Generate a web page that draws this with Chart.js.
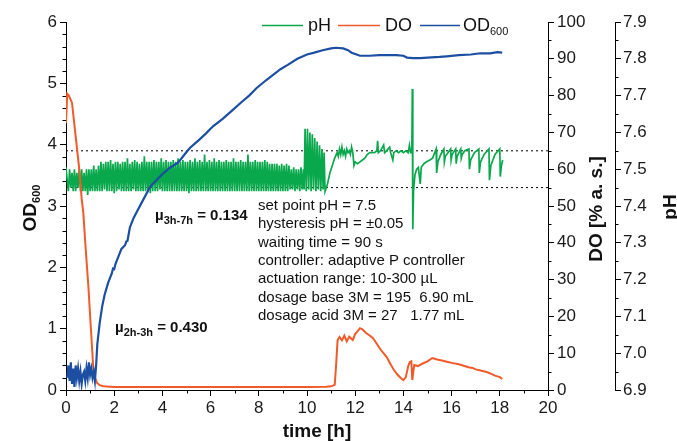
<!DOCTYPE html>
<html>
<head>
<meta charset="utf-8">
<script src="https://cdn.jsdelivr.net/npm/chart.js@4/dist/chart.umd.min.js"></script>
<style>
  html, body { margin: 0; padding: 0; background: #fff; }
  #wrap { width: 677px; height: 441px; position: relative; }
</style>
</head>
<body>
<div id="wrap"><canvas id="chart"></canvas></div>
<script>
// OD600, left axis
var odTime = [0.05,0.1,0.15,0.2,0.25,0.3,0.35,0.4,0.45,0.5,0.55,0.6,0.65,0.7,0.75,0.8,0.85,0.9,0.95,1.0,1.05,1.1,1.15,1.2,
  1.25,1.3,1.4,1.5,1.6,1.75,1.9,1.95,2.0,2.05,2.1,2.3,2.45,2.5,2.55,2.65,2.8,3.0,3.2,3.5,4.0,4.3,4.66,5.0,5.15,5.5,5.8,6.1,6.5,6.9,7.3,7.6,7.9,
  8.3,8.9,9.2,9.6,10.0,10.3,10.65,11.0,11.2,11.5,11.7,11.85,12.2,12.6,13.0,13.3,13.7,14.0,14.15,14.4,14.7,15.0,15.5,15.8,
  16.3,16.8,17.2,17.6,17.9,18.1];
var odValue = [0.2,0.4,0.15,0.45,0.1,0.35,0.05,0.4,0.2,0.35,0.15,0.3,0.1,0.25,0.3,0.15,0.35,0.2,0.45,0.25,0.35,0.2,0.3,0.15,
  0.4,0.75,1.1,1.36,1.55,1.75,1.9,1.98,1.97,2.05,2.1,2.3,2.36,2.42,2.43,2.65,2.8,2.95,3.1,3.32,3.52,3.62,3.71,3.88,3.95,4.07,4.18,4.3,4.42,4.56,4.7,4.8,4.92,
  5.05,5.23,5.3,5.4,5.47,5.5,5.54,5.57,5.58,5.57,5.54,5.5,5.45,5.45,5.46,5.46,5.46,5.45,5.42,5.41,5.41,5.42,5.43,5.44,
  5.46,5.47,5.49,5.49,5.51,5.5];

// DO [% a. s.], first right axis
var doTime = [0,0.05,0.12,0.25,0.35,0.45,0.55,0.65,0.72,0.8,0.93,1.03,1.13,1.2,1.28,1.4,1.55,2,3,4,5,6,7,8,9,10,10.8,11.0,11.15,
  11.2,11.27,11.35,11.45,11.55,11.65,11.75,11.9,12.0,12.1,12.2,12.3,12.45,12.6,12.75,12.9,13.05,13.2,13.3,13.45,13.6,13.75,13.9,
  14.0,14.1,14.2,14.27,14.33,14.37,14.42,14.45,14.6,14.8,15.0,15.2,15.4,15.6,15.8,16.05,16.3,16.5,16.7,16.87,17.0,17.2,17.45,
  17.6,17.8,18.0,18.1];
var doValue = [72.5,80.5,80,78,72,66,60,52,48,40,28,17,6.2,3.5,2,1.3,1,0.8,0.8,0.8,0.8,0.8,0.8,0.8,0.8,0.8,0.9,1.0,1.4,
  6,13.6,14.4,13.5,14.8,13.2,14.5,13.6,15.2,16,16.8,16.5,15.5,14.8,14,12.5,11,9.8,9,7.2,5.5,4.2,3.2,
  2.7,3.5,6.5,7.6,7.8,2.7,5.5,6.8,6.5,7.2,7.8,8.7,8.3,8.0,7.7,7.3,7.0,6.6,6.2,6.0,5.6,5.3,4.9,
  4.5,3.9,3.5,3.0];

// pH, second right axis: dense controller part, one reading every 0.05 h from 0 h to 9.85 h
var phBandStart = 0;
var phBandStep = 0.05;
var phBandValue = [
  7.505,7.47,7.44,7.50,7.45,7.49,7.44,7.50,7.44,7.49,7.45,7.50,7.44,7.50,7.44,7.49,7.44,7.50,7.43,7.50,
  7.44,7.50,7.44,7.51,7.44,7.50,7.44,7.51,7.44,7.52,7.44,7.515,7.445,7.52,7.44,7.52,7.44,7.525,7.44,7.515,
  7.435,7.52,7.44,7.52,7.445,7.515,7.44,7.52,7.44,7.52,7.44,7.53,7.44,7.515,7.44,7.52,7.445,7.525,7.44,7.52,
  7.44,7.515,7.44,7.52,7.44,7.535,7.44,7.52,7.44,7.52,7.435,7.52,7.44,7.525,7.44,7.52,7.44,7.52,7.445,7.53,
  7.44,7.52,7.44,7.525,7.44,7.52,7.44,7.52,7.44,7.525,7.44,7.52,7.44,7.53,7.44,7.52,7.44,7.525,7.44,7.52,
  7.44,7.52,7.435,7.525,7.44,7.52,7.44,7.53,7.44,7.52,7.44,7.525,7.44,7.52,7.44,7.54,7.44,7.52,7.44,7.525,
  7.44,7.52,7.44,7.53,7.44,7.52,7.44,7.525,7.44,7.52,7.44,7.52,7.44,7.525,7.44,7.52,7.44,7.52,7.44,7.53,
  7.44,7.52,7.44,7.52,7.44,7.525,7.44,7.52,7.44,7.52,7.44,7.54,7.44,7.52,7.44,7.52,7.44,7.525,7.44,7.52,
  7.44,7.52,7.44,7.52,7.44,7.525,7.44,7.52,7.44,7.515,7.44,7.515,7.44,7.515,7.44,7.515,7.44,7.51,7.44,7.515,
  7.44,7.51,7.44,7.515,7.44,7.51,7.445,7.50,7.445,7.505,7.44,7.50,7.445,7.50,7.44,7.505,7.445,7.50];
// pH after 9.85 h
var phTime = [9.88,9.92,9.97,10.02,10.07,10.12,10.17,10.22,10.27,10.32,10.37,10.42,10.47,10.52,10.57,10.62,10.67,10.71,10.75,
  10.85,10.95,11.05,11.15,11.25,
  11.30,11.35,11.40,11.45,11.50,11.55,11.60,11.65,11.70,11.75,11.80,11.85,11.90,
  11.95,12.00,12.10,12.20,12.30,12.40,12.50,12.60,12.70,
  12.80,12.90,12.93,12.96,13.05,13.18,13.22,13.30,13.43,13.47,13.56,13.60,13.70,13.80,13.90,14.00,14.10,14.20,14.25,14.30,14.35,
  14.37,14.39,14.42,14.48,14.55,14.62,14.70,14.74,14.85,14.96,15.10,15.21,15.30,
  15.36,15.38,15.43,15.55,15.68,15.70,15.74,15.85,15.96,15.98,16.02,16.17,16.19,16.23,16.38,16.40,16.44,16.55,16.72,16.74,
  16.79,16.95,17.13,17.15,17.20,17.35,17.55,17.57,17.63,17.80,18.00,18.02,18.07,18.12];
var phValue = [7.445,7.61,7.44,7.61,7.445,7.60,7.44,7.595,7.445,7.585,7.44,7.575,7.445,7.565,7.44,7.555,7.445,7.545,7.44,
  7.46,7.49,7.51,7.53,7.545,
  7.535,7.555,7.54,7.56,7.54,7.55,7.535,7.555,7.545,7.55,7.54,7.56,7.545,
  7.51,7.52,7.515,7.52,7.525,7.53,7.54,7.545,7.545,
  7.545,7.55,7.577,7.545,7.55,7.566,7.545,7.55,7.56,7.545,7.525,7.545,7.55,7.545,7.55,7.545,7.55,7.545,7.565,7.545,7.545,
  7.718,7.337,7.44,7.485,7.50,7.505,7.46,7.505,7.515,7.52,7.525,7.53,7.545,
  7.555,7.49,7.52,7.54,7.555,7.52,7.535,7.545,7.555,7.525,7.54,7.555,7.515,7.535,7.555,7.53,7.54,7.55,7.555,7.50,
  7.525,7.545,7.555,7.49,7.52,7.54,7.555,7.47,7.51,7.54,7.555,7.48,7.51,7.525];

// hysteresis limits (set point 7.5 +/- 0.05)
var phLimits = [7.45, 7.55];

var infoLines = [
  'set point pH = 7.5',
  'hysteresis pH = \u00b10.05',
  'waiting time = 90 s',
  'controller: adaptive P controller',
  'actuation range: 10-300 \u00b5L',
  'dosage base 3M = 195  6.90 mL',
  'dosage acid 3M = 27   1.77 mL'
];

var GREEN = '#0aa84c', RED = '#f15a29', BLUE = '#1c4fa1';

function toPoints(t, v) {
  return t.map(function(x, i) { return {x: x, y: v[i]}; });
}

var phPoints = phBandValue.map(function(v, i) {
  return {x: phBandStart + i * phBandStep, y: v};
}).concat(toPoints(phTime, phValue));

var datasets = [
  { label: 'OD600', data: toPoints(odTime, odValue), yAxisID: 'y', borderColor: BLUE, borderWidth: 2.2, order: 1 },
  { label: 'DO', data: toPoints(doTime, doValue), yAxisID: 'yDO', borderColor: RED, borderWidth: 2, order: 2 },
  { label: 'pH', data: phPoints, yAxisID: 'yPH', borderColor: GREEN, borderWidth: 1.7, order: 3 }
];
phLimits.forEach(function(lim) {
  datasets.push({ label: 'limit', data: [{x: 0, y: lim}, {x: 20, y: lim}], yAxisID: 'yPH',
    borderColor: '#000', borderWidth: 1, borderDash: [2, 3], order: 4 });
});

Chart.defaults.font.family = '"Liberation Sans", Arial, sans-serif';
Chart.defaults.color = '#1a1a1a';

function axisBase(extra) {
  var o = {
    type: 'linear',
    border: { display: true, color: '#000', width: 1 },
    grid: { drawOnChartArea: false, color: '#000', tickLength: 6, lineWidth: 1 },
    ticks: { font: { size: 17 }, color: '#1a1a1a', padding: 3 }
  };
  for (var k in extra) o[k] = extra[k];
  return o;
}

// draws sub-scripted text at (x, y) baseline, in the current transform
function subText(ctx, main, sub, x, y, size, subSize, weight) {
  ctx.font = weight + ' ' + size + 'px "Liberation Sans", Arial, sans-serif';
  ctx.fillText(main, x, y);
  var w = ctx.measureText(main).width;
  ctx.font = weight + ' ' + subSize + 'px "Liberation Sans", Arial, sans-serif';
  ctx.fillText(sub, x + w, y + subSize * 0.35);
  return w + ctx.measureText(sub).width;
}

var extras = {
  id: 'extras',
  afterDraw: function(chart) {
    var ctx = chart.ctx, s = chart.scales;
    ctx.save();
    ctx.strokeStyle = '#000';
    ctx.lineWidth = 1;
    ctx.beginPath();
    var i, p;
    // minor ticks
    for (i = 1; i < 20; i += 2) {
      p = Math.round(s.x.getPixelForValue(i)) + 0.5;
      ctx.moveTo(p, s.x.top); ctx.lineTo(p, s.x.top + 3.5);
    }
    for (i = 1; i < 30; i++) {
      if (i % 5 === 0) continue;
      p = Math.round(s.y.getPixelForValue(i * 0.2)) + 0.5;
      ctx.moveTo(s.y.right, p); ctx.lineTo(s.y.right - 3.5, p);
    }
    for (i = 0; i < 10; i++) {
      p = Math.round(s.yDO.getPixelForValue(5 + i * 10)) + 0.5;
      ctx.moveTo(s.yDO.left, p); ctx.lineTo(s.yDO.left + 3.5, p);
    }
    for (i = 0; i < 10; i++) {
      p = Math.round(s.yPH.getPixelForValue(6.95 + i * 0.1)) + 0.5;
      ctx.moveTo(s.yPH.left, p); ctx.lineTo(s.yPH.left + 3.5, p);
    }
    ctx.stroke();

    ctx.fillStyle = '#111';
    ctx.textBaseline = 'alphabetic';
    ctx.textAlign = 'left';

    // legend
    var items = [
      {c: GREEN, x0: 262, x1: 303, t: 'pH', tx: 308},
      {c: RED, x0: 338, x1: 380, t: 'DO', tx: 385},
      {c: BLUE, x0: 420, x1: 460, t: 'OD', tx: 463, sub: '600'}
    ];
    items.forEach(function(it) {
      ctx.strokeStyle = it.c; ctx.lineWidth = 1.5;
      ctx.beginPath(); ctx.moveTo(it.x0, 25.5); ctx.lineTo(it.x1, 25.5); ctx.stroke();
      ctx.fillStyle = '#111';
      if (it.sub) {
        subText(ctx, it.t, it.sub, it.tx, 31, 18, 11, 'normal');
      } else {
        ctx.font = '18px "Liberation Sans", Arial, sans-serif';
        ctx.fillText(it.t, it.tx, 31);
      }
    });

    // controller info block
    ctx.font = '15px "Liberation Sans", Arial, sans-serif';
    infoLines.forEach(function(line, k) {
      ctx.fillText(line, 258, 210 + k * 18.3);
    });

    // growth rates
    var w1 = subText(ctx, '\u00b5', '3h-7h', 155, 220, 15, 11, 'bold');
    ctx.font = 'bold 15px "Liberation Sans", Arial, sans-serif';
    ctx.fillText(' = 0.134', 155 + w1, 220);
    var w2 = subText(ctx, '\u00b5', '2h-3h', 115, 332, 15, 11, 'bold');
    ctx.font = 'bold 15px "Liberation Sans", Arial, sans-serif';
    ctx.fillText(' = 0.430', 115 + w2, 332);

    // axis titles
    ctx.font = 'bold 19px "Liberation Sans", Arial, sans-serif';
    ctx.textAlign = 'center';
    ctx.fillText('time [h]', 317, 437);

    function rotated(x, y, fn) {
      ctx.save(); ctx.translate(x, y); ctx.rotate(-Math.PI / 2); fn(); ctx.restore();
    }
    rotated(36, 208, function() {
      ctx.textAlign = 'left';
      ctx.font = 'bold 19px "Liberation Sans", Arial, sans-serif';
      var wm = ctx.measureText('OD').width;
      ctx.font = 'bold 11px "Liberation Sans", Arial, sans-serif';
      var ws = ctx.measureText('600').width;
      subText(ctx, 'OD', '600', -(wm + ws) / 2, 0, 19, 11, 'bold');
    });
    rotated(602, 209, function() {
      ctx.textAlign = 'center';
      ctx.font = 'bold 19px "Liberation Sans", Arial, sans-serif';
      ctx.fillText('DO [% a. s.]', 0, 0);
    });
    rotated(676, 207, function() {
      ctx.textAlign = 'center';
      ctx.font = 'bold 19px "Liberation Sans", Arial, sans-serif';
      ctx.fillText('pH', 0, 0);
    });
    ctx.restore();
  }
};

new Chart(document.getElementById('chart'), {
  type: 'line',
  data: { datasets: datasets },
  options: {
    responsive: true,
    maintainAspectRatio: false,
    animation: false,
    parsing: false,
    elements: { point: { radius: 0 }, line: { tension: 0 } },
    layout: { padding: { top: 22, left: 0, right: 0, bottom: 0 } },
    plugins: { legend: { display: false }, tooltip: { enabled: false } },
    scales: {
      x: axisBase({
        position: 'bottom', min: 0, max: 20,
        ticks: { stepSize: 2, font: { size: 17 }, color: '#1a1a1a', padding: 2, maxRotation: 0 },
        afterFit: function(sc) { sc.height = 51; }
      }),
      y: axisBase({
        position: 'left', min: 0, max: 6,
        ticks: { stepSize: 1, font: { size: 17 }, color: '#1a1a1a', padding: 3 },
        afterFit: function(sc) { sc.width = 66; }
      }),
      yDO: axisBase({
        position: 'right', min: 0, max: 100, weight: 0,
        ticks: { stepSize: 10, font: { size: 17 }, color: '#1a1a1a', padding: 3 },
        afterFit: function(sc) { sc.width = 67; }
      }),
      yPH: axisBase({
        position: 'right', min: 6.9, max: 7.9, weight: 1,
        ticks: { stepSize: 0.1, font: { size: 17 }, color: '#1a1a1a', padding: 2,
          callback: function(v) { return Number(v).toFixed(1); } },
        afterFit: function(sc) { sc.width = 62; }
      })
    }
  },
  plugins: [extras]
});
</script>
</body>
</html>
